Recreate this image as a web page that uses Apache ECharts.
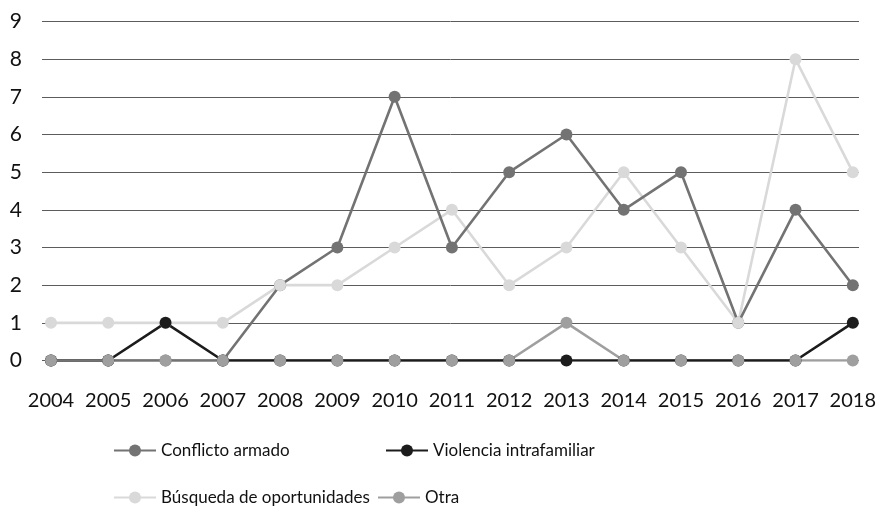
<!DOCTYPE html>
<html><head><meta charset="utf-8">
<script src="https://cdn.jsdelivr.net/npm/echarts@6/dist/echarts.min.js"></script>
<style>html,body{margin:0;padding:0;background:#fff}#c{width:879px;height:508px}</style>
</head><body><div id="c"></div>
<script>
const years = ['2004','2005','2006','2007','2008','2009','2010','2011','2012','2013','2014','2015','2016','2017','2018'];
const conflicto = [0,0,0,0,2,3,7,3,5,6,4,5,1,4,2];
const violencia = [0,0,1,0,0,0,0,0,0,0,0,0,0,0,1];
const busqueda = [1,1,1,1,2,2,3,4,2,3,5,3,1,8,5];
const otra = [0,0,0,0,0,0,0,0,0,1,0,0,0,0,0];
const yTicks = [0,1,2,3,4,5,6,7,8,9];

const colors = {'Conflicto armado':'#737373','Violencia intrafamiliar':'#1c1c1c','Búsqueda de oportunidades':'#d9d9d9','Otra':'#9f9f9f'};
const dataMap = {'Conflicto armado':conflicto,'Violencia intrafamiliar':violencia,'Búsqueda de oportunidades':busqueda,'Otra':otra};
const FONT = 'Lato';

function lineSeries(name, z){
  return {type:'line', name, data:dataMap[name], xAxisIndex:1, yAxisIndex:1, z,
    symbol:'circle', symbolSize:12, showSymbol:false, silent:true,
    lineStyle:{color:colors[name], width:2.6}, itemStyle:{color:colors[name]}, animation:false};
}
function markerSeries(name, z){
  return {type:'line', name, data:dataMap[name], xAxisIndex:1, yAxisIndex:1, z,
    symbol:'circle', symbolSize:12, showSymbol:true, silent:true,
    lineStyle:{color:colors[name], width:0, opacity:0}, itemStyle:{color:colors[name]}, animation:false};
}
function legendAt(name, left, top){
  return {data:[name], left, top, padding:0, itemWidth:42, itemHeight:15, itemGap:0,
    textStyle:{fontFamily:FONT, fontSize:17, color:'#111'}, selectedMode:false};
}

const chart = echarts.init(document.getElementById('c'), null, {renderer:'canvas'});
chart.setOption({
  animation:false,
  backgroundColor:'#fff',
  grid:[
    {left:42, right:20, top:21.5, bottom:147.5},
    {left:51, right:21, top:21.5, bottom:147.5}
  ],
  xAxis:[
    {type:'category', gridIndex:0, data:years, show:false},
    {type:'category', gridIndex:1, data:years, boundaryGap:false,
     axisLine:{show:false}, axisTick:{show:false}, splitLine:{show:false},
     axisLabel:{fontFamily:FONT, fontSize:20, color:'#111', margin:30, interval:0}}
  ],
  yAxis:[
    {type:'value', gridIndex:0, min:yTicks[0], max:yTicks[yTicks.length-1], interval:1,
     axisLine:{show:false}, axisTick:{show:false},
     splitLine:{lineStyle:{color:'#5c5c5c', width:1}},
     axisLabel:{fontFamily:FONT, fontSize:21, color:'#111', margin:20}},
    {type:'value', gridIndex:1, min:yTicks[0], max:yTicks[yTicks.length-1], interval:1, show:false}
  ],
  legend:[
    legendAt('Conflicto armado',113,442),
    legendAt('Violencia intrafamiliar',385,442),
    legendAt('Búsqueda de oportunidades',113,489),
    legendAt('Otra',377,489)
  ],
  series:[
    lineSeries('Otra',2),
    lineSeries('Violencia intrafamiliar',3),
    lineSeries('Búsqueda de oportunidades',4),
    lineSeries('Conflicto armado',5),
    markerSeries('Conflicto armado',6),
    markerSeries('Búsqueda de oportunidades',7),
    markerSeries('Violencia intrafamiliar',8),
    markerSeries('Otra',9)
  ]
});
</script></body></html>
